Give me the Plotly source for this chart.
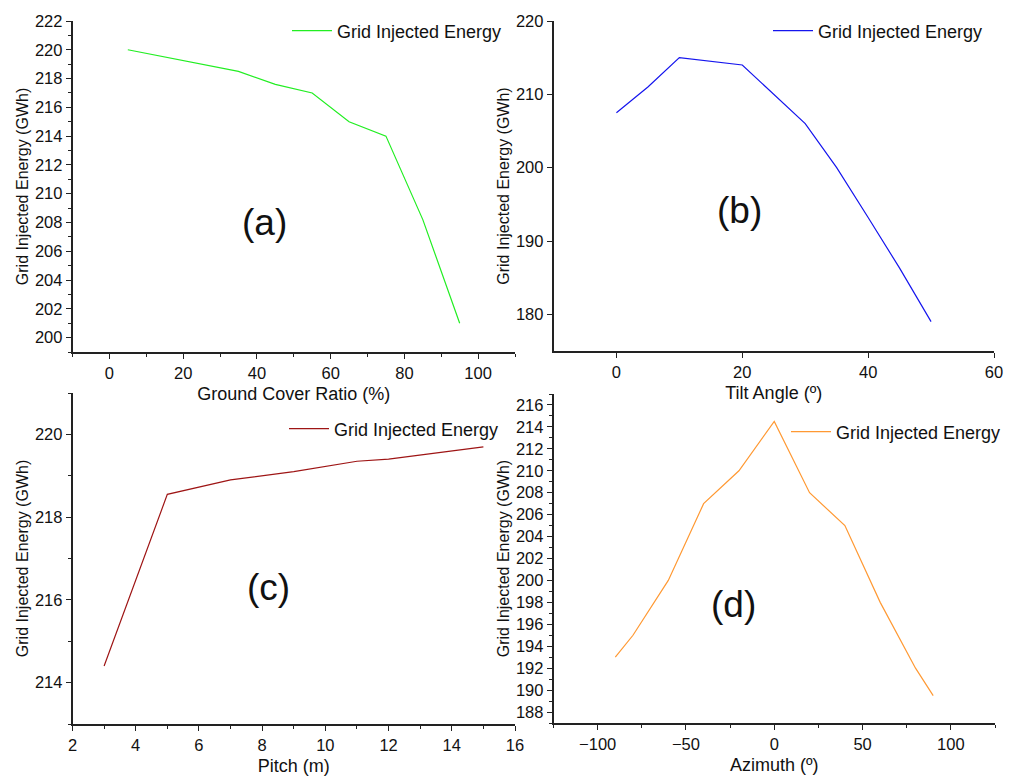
import plotly.graph_objects as go

# page has an 8px body margin; figure is sized so the page fits the window
OFF = 8
W, H = 1007, 770

# ---- data ----
gcr_x = [5, 35, 45, 55, 65, 75, 85, 95]
gcr_y = [220, 218.5, 217.6, 217, 215, 214, 208.2, 201]

tilt_x = [0, 5, 10, 20, 30, 35, 40, 45, 50]
tilt_y = [207.5, 211, 215, 214, 206, 200, 193.2, 186.3, 179]

pitch_x = [3, 5, 7, 9, 11, 12, 15]
pitch_y = [214.4, 218.55, 218.9, 219.1, 219.35, 219.4, 219.7]

azim_x = [-90, -80, -60, -40, -20, 0, 20, 40, 60, 80, 90]
azim_y = [193, 195, 200, 207, 210, 214.5, 208, 205, 198, 192, 189.5]

series_name = "Grid Injected Energy"
y_title = "Grid Injected Energy (GWh)"
x_titles = ["Ground Cover Ratio (%)", "Tilt Angle (º)", "Pitch (m)", "Azimuth (º)"]
panel_labels = ["(a)", "(b)", "(c)", "(d)"]
colors = ["#22ee22", "#1515ee", "#9e1515", "#ff9933"]

FONT = "Arial, Liberation Sans, sans-serif"

def px_x(a, b):
    return [(a - OFF) / W, (b - OFF) / W]

def px_y(top, bottom):
    return [1 - (bottom - OFF) / H, 1 - (top - OFF) / H]

# plot areas in page pixels: (left, right, top, bottom)
areas = [
    (72.5, 515, 21, 352),
    (553.5, 994, 21, 351),
    (72.5, 515, 393, 724),
    (553.5, 995, 394, 723),
]

xranges = [[-10, 110], [-10, 60], [2, 16], [-125, 125]]
yranges = [[199, 222], [175, 220], [213, 221], [187, 217]]
xdticks = [20, 20, 2, 50]
ydticks = [2, 10, 2, 2]
xminor = [10, None, 1, 25]
yminor = [1, None, 1, 1]

datasets = [(gcr_x, gcr_y), (tilt_x, tilt_y), (pitch_x, pitch_y), (azim_x, azim_y)]
legend_pos = [(293, 31), (774, 31), (290, 429), (792, 432)]
label_pos = [(42, 208), (19.6, 194.2), (8.2, 216.3), (-23, 197.8)]

fig = go.Figure()
layout = dict(
    width=W, height=H,
    margin=dict(l=0, r=0, t=0, b=0, autoexpand=False),
    paper_bgcolor="white", plot_bgcolor="white",
    font=dict(family=FONT, color="#111111"),
    annotations=[],
)

for i in range(4):
    sfx = "" if i == 0 else str(i + 1)
    legname = "legend" if i == 0 else f"legend{i+1}"
    xs, ys = datasets[i]
    fig.add_trace(go.Scatter(
        x=xs, y=ys, mode="lines", name=series_name,
        line=dict(color=colors[i], width=1.2),
        xaxis="x" + sfx, yaxis="y" + sfx, legend=legname, showlegend=True,
    ))
    l, r, t, b = areas[i]
    xa = dict(
        domain=px_x(l, r), range=xranges[i], anchor="y" + sfx,
        showgrid=False, zeroline=False, showline=True, linecolor="#222222", linewidth=1.5,
        ticks="outside", ticklen=5, tickwidth=1.2, tickcolor="#222222",
        dtick=xdticks[i], tick0=0,
        tickfont=dict(size=16.5, family=FONT, color="#111111"),
        title=dict(text=x_titles[i], font=dict(size=18, family=FONT, color="#111111"), standoff=7),
    )
    if xminor[i]:
        xa["minor"] = dict(ticks="outside", ticklen=3, tickwidth=1, tickcolor="#222222", dtick=xminor[i], tick0=0)
    ya = dict(
        domain=px_y(t, b), range=yranges[i], anchor="x" + sfx,
        showgrid=False, zeroline=False, showline=True, linecolor="#222222", linewidth=1.5,
        ticks="outside", ticklen=5, tickwidth=1.2, tickcolor="#222222",
        dtick=ydticks[i], tick0=0,
        tickfont=dict(size=16.5, family=FONT, color="#111111"),
        title=dict(text=y_title, font=dict(size=16, family=FONT, color="#111111"), standoff=2),
    )
    if yminor[i]:
        ya["minor"] = dict(ticks="outside", ticklen=3, tickwidth=1, tickcolor="#222222", dtick=yminor[i], tick0=0)
    layout["xaxis" + sfx] = xa
    layout["yaxis" + sfx] = ya

    lx, ly = legend_pos[i]
    layout[legname] = dict(
        x=(lx - OFF - 6) / W, y=1 - (ly - OFF) / H, xanchor="left", yanchor="middle",
        xref="paper", yref="paper",
        bgcolor="rgba(0,0,0,0)", borderwidth=0,
        font=dict(size=18, family=FONT, color="#111111"),
        itemwidth=40,
    )
    ax_, ay_ = label_pos[i]
    layout["annotations"].append(dict(
        text=panel_labels[i], x=ax_, y=ay_, xref="x" + sfx, yref="y" + sfx,
        showarrow=False, font=dict(size=37, family=FONT, color="#111111"),
        xanchor="center", yanchor="middle",
    ))

fig.update_layout(**layout)
fig.write_html("out.html")
